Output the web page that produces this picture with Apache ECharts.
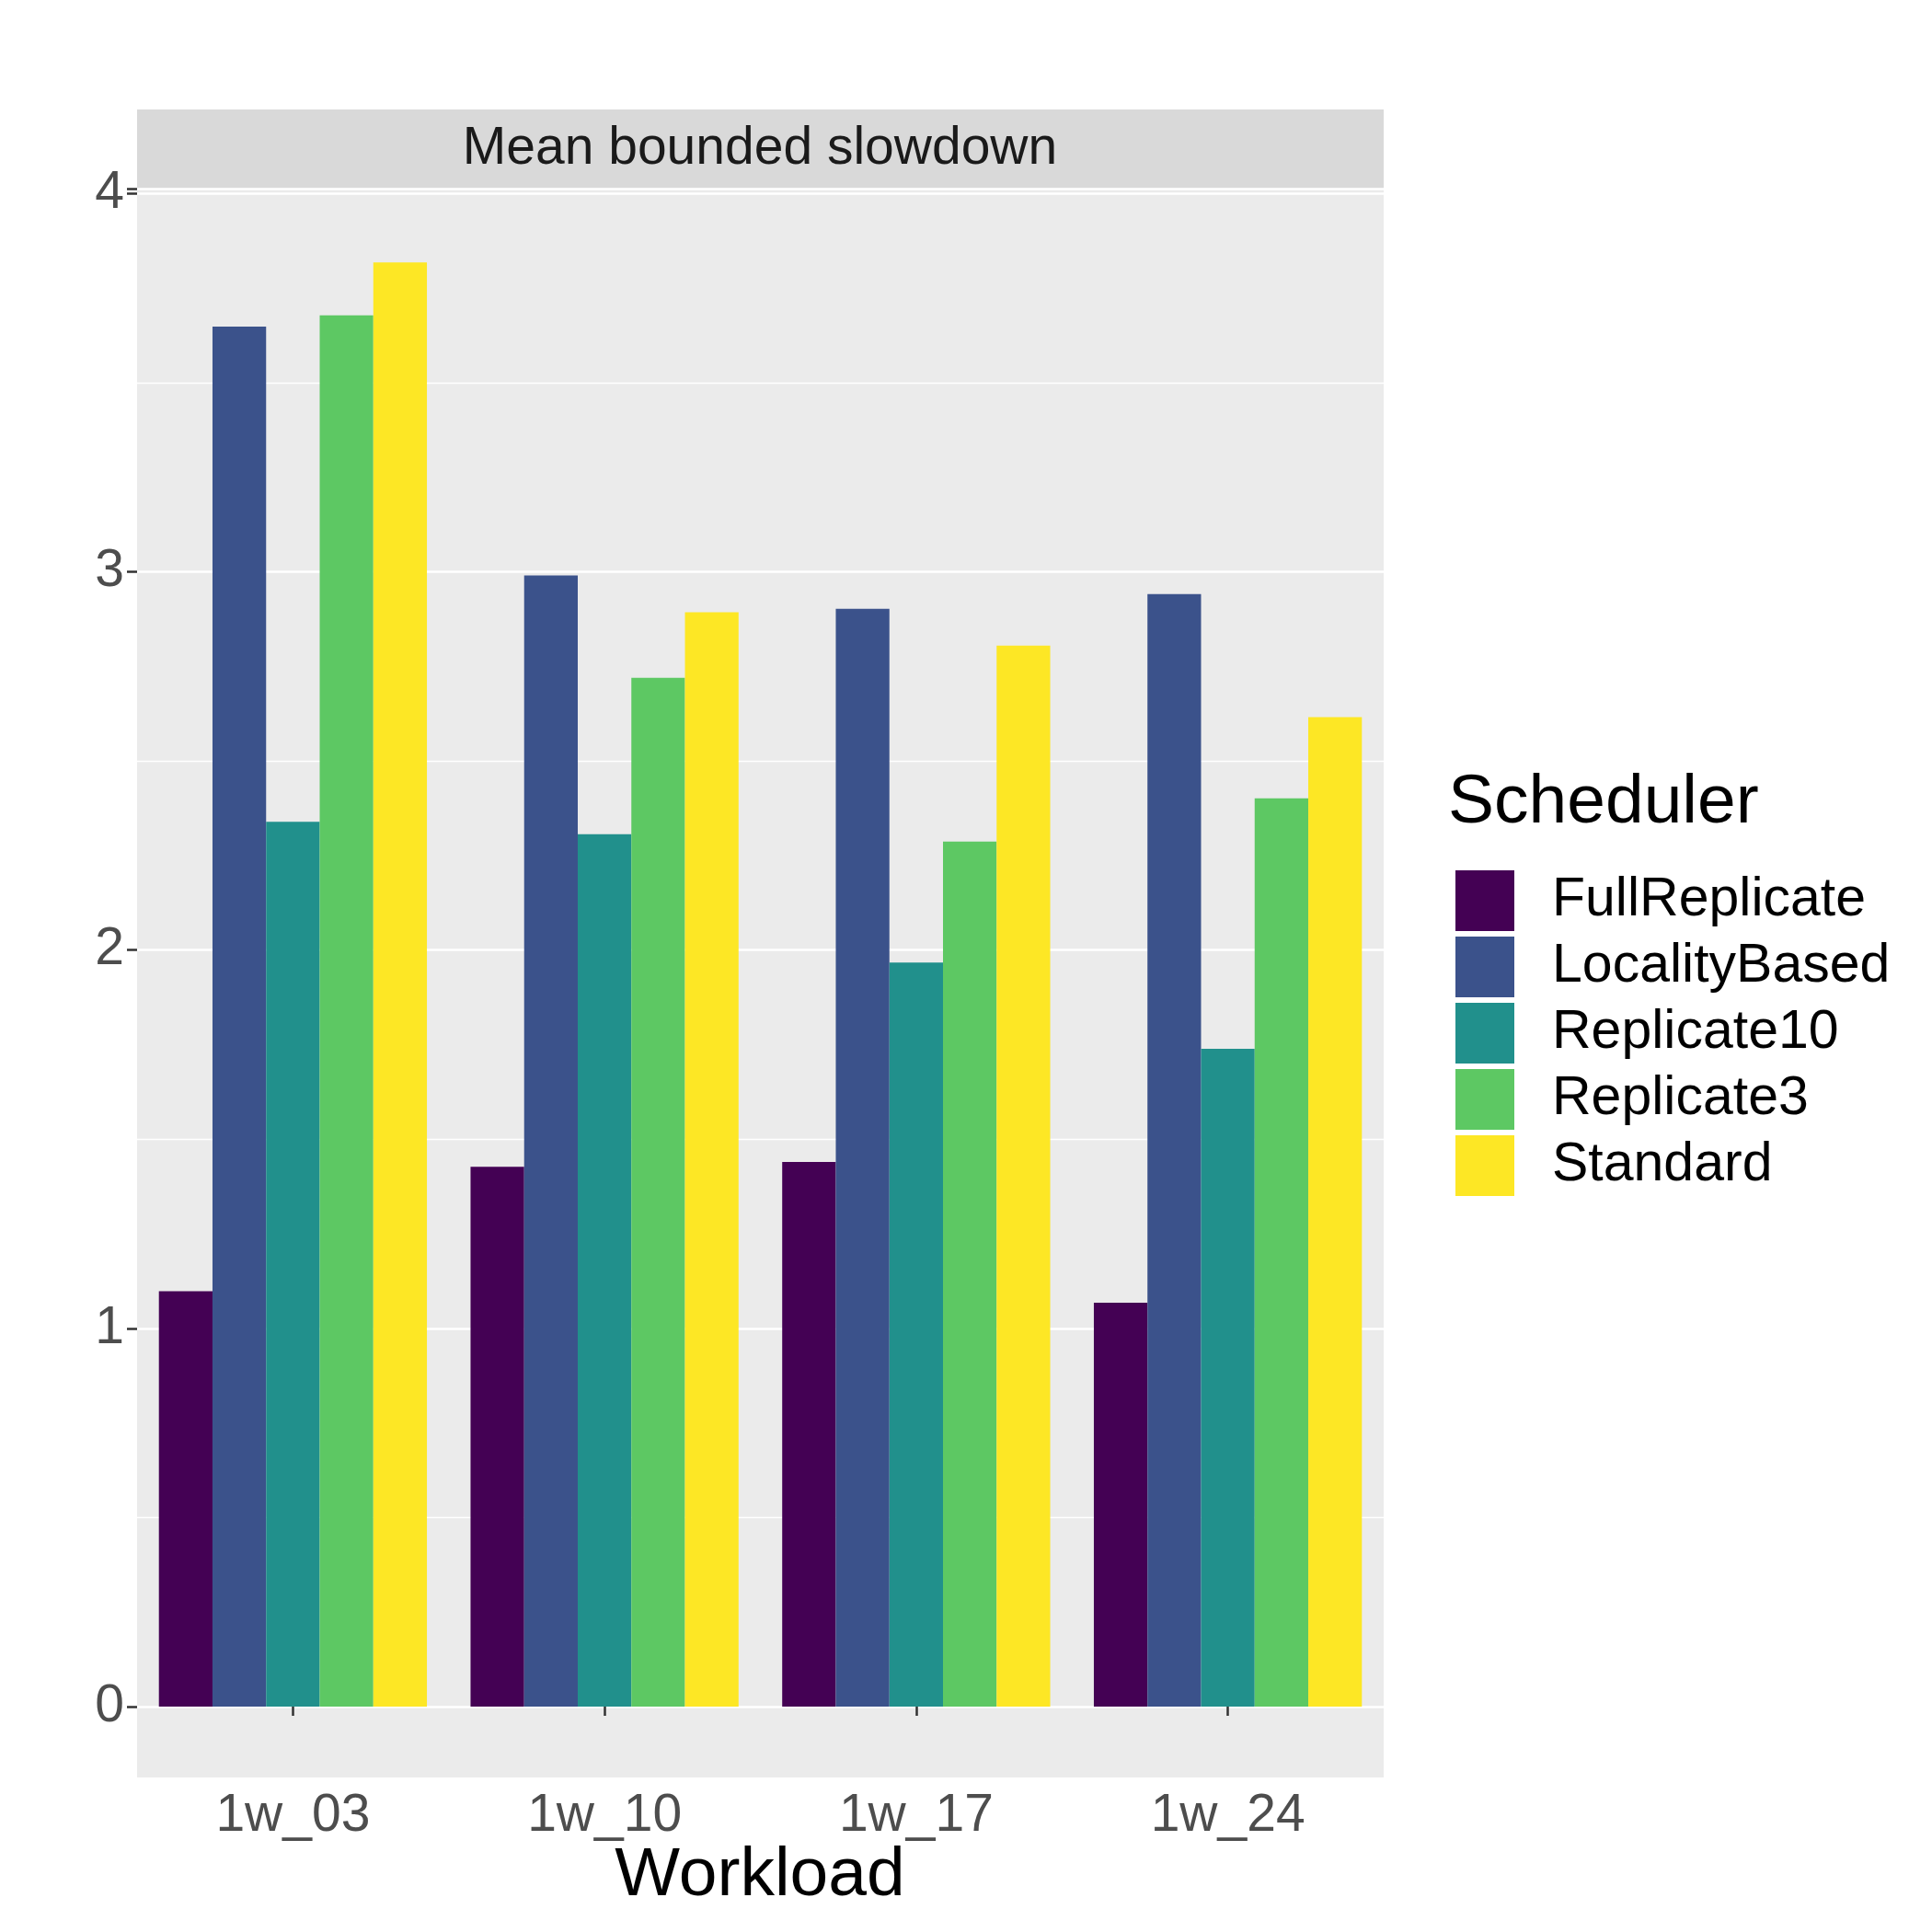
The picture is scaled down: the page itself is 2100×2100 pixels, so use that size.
<!DOCTYPE html>
<html><head><meta charset="utf-8">
<script src="https://cdn.jsdelivr.net/npm/echarts@6/dist/echarts.min.js"></script>
<style>html,body{margin:0;background:#fff}#c{width:2100px;height:2100px}</style>
</head><body><div id="c"></div>
<script>
// Mean bounded slowdown per workload, grouped by scheduler.
const workloads = ['1w_03', '1w_10', '1w_17', '1w_24'];
const schedulers = ['FullReplicate', 'LocalityBased', 'Replicate10', 'Replicate3', 'Standard'];
const colors = ['#440154', '#3B528B', '#21908C', '#5DC863', '#FDE725'];
const fullReplicate = [1.098, 1.427, 1.440, 1.068];
const localityBased = [3.648, 2.990, 2.902, 2.941];
const replicate10 = [2.339, 2.306, 1.967, 1.739];
const replicate3 = [3.678, 2.720, 2.287, 2.401];
const standard = [3.818, 2.893, 2.805, 2.616];
const values = [fullReplicate, localityBased, replicate10, replicate3, standard];

const font = 'Liberation Sans, Arial, sans-serif';
const chart = echarts.init(document.getElementById('c'));
chart.setOption({
  animation: false,
  backgroundColor: '#fff',
  graphic: [
    { type: 'rect', z: -10, shape: { x: 149, y: 205, width: 1355, height: 1727 }, style: { fill: '#EBEBEB' } },
    { type: 'rect', z: -10, shape: { x: 149, y: 119, width: 1355, height: 86 }, style: { fill: '#D9D9D9' } },
    { type: 'text', x: 826, y: 162, style: { text: 'Mean bounded slowdown', font: '57px ' + font, fill: '#1A1A1A', textAlign: 'center', textVerticalAlign: 'middle' } },
    { type: 'text', x: 1574, y: 873, style: { text: 'Scheduler', font: '75px ' + font, fill: '#000', textAlign: 'left', textVerticalAlign: 'middle' } },
    { type: 'text', x: 826, y: 2039, style: { text: 'Workload', font: '75px ' + font, fill: '#000', textAlign: 'center', textVerticalAlign: 'middle' } }
  ],
  grid: { left: 149, right: 596, top: 205, bottom: 245 },
  legend: {
    orient: 'vertical', left: 1577, top: 941,
    itemWidth: 64, itemHeight: 66, itemGap: 6,
    icon: 'rect',
    textStyle: { fontSize: 59, fontFamily: font, color: '#000', padding: [0, 0, 0, 36] },
    data: schedulers
  },
  xAxis: {
    type: 'category', data: workloads, offset: 77,
    axisLine: { show: false },
    axisTick: { show: true, alignWithLabel: true, length: 10, lineStyle: { color: '#333', width: 2.5 } },
    axisLabel: { fontSize: 57, fontFamily: font, color: '#4D4D4D', margin: 14 },
    splitLine: { show: false }
  },
  yAxis: {
    type: 'value', min: 0, max: 4.013, interval: 1,
    axisLine: { show: false },
    axisTick: { show: true, length: 11, lineStyle: { color: '#333', width: 2.5 } },
    axisLabel: { fontSize: 57, fontFamily: font, color: '#4D4D4D', margin: 14,
      formatter: v => (Math.abs(v - Math.round(v)) < 1e-6 ? String(Math.round(v)) : '') },
    splitLine: { show: true, lineStyle: { color: '#fff', width: 2.7 } },
    minorTick: { show: false, splitNumber: 2 },
    minorSplitLine: { show: true, lineStyle: { color: '#fff', width: 1.3 } }
  },
  series: schedulers.map((s, i) => ({
    name: s, type: 'bar', data: values[i],
    barGap: 0, barCategoryGap: '14%',
    itemStyle: { color: colors[i] }
  }))
});
</script></body></html>
